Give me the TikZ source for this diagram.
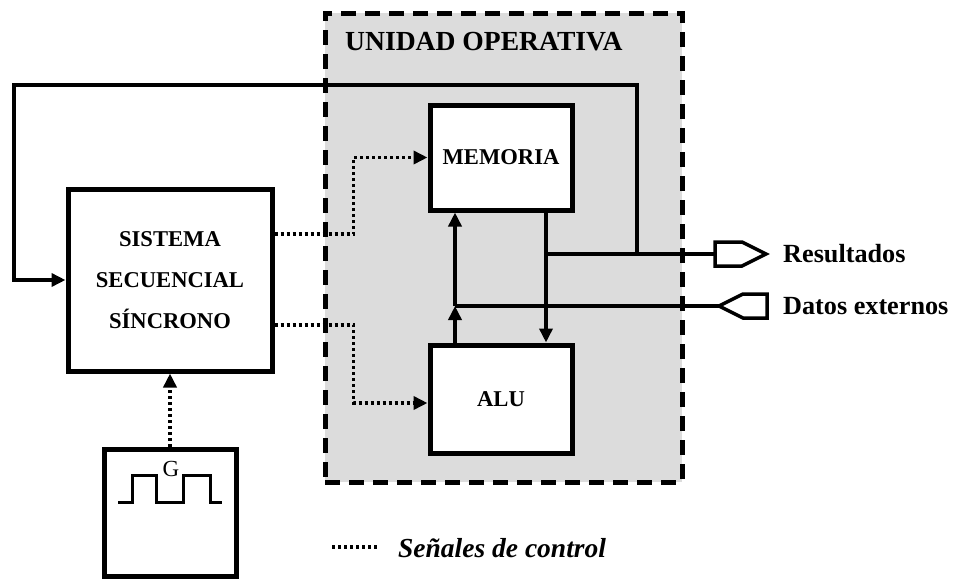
\documentclass[tikz,border=0pt]{standalone}
\usepackage{fontspec}
\setmainfont{Liberation Serif}
\usetikzlibrary{arrows.meta,calc}
\definecolor{unitgray}{RGB}{220,220,220}

\begin{document}
\begin{tikzpicture}[x=1pt,y=-1pt,
  block/.style={draw, line width=5pt, fill=white, inner sep=0pt,
    font=\fontsize{22.6}{41}\selectfont\bfseries, align=center},
  bus/.style={line width=3.5pt},
  ctrl/.style={line width=3.5pt, dash pattern=on 3pt off 3pt},
  tip/.style={-{Triangle[length=14pt,width=13pt]}},
  lbl/.style={font=\fontsize{26.2}{30}\selectfont\bfseries, anchor=west, inner sep=0pt}
]
\useasboundingbox (0,0) rectangle (953,581);

% operative unit frame
\node[draw, line width=5pt, dash pattern=on 15pt off 9pt, fill=unitgray,
      minimum width=357pt, minimum height=469pt, inner sep=0pt] (uo) at (503.5,247.5) {};
\node[font=\fontsize{27.6}{30}\selectfont\bfseries, anchor=west, inner sep=0pt] (uotitle) at (345,42) {UNIDAD OPERATIVA};

% blocks
\node[block, minimum width=204pt, minimum height=182pt] (sss) at (170,280)
  {SISTEMA\\SECUENCIAL\\SÍNCRONO};
\node[block, minimum width=142pt, minimum height=105pt] (mem) at (501,157.5) {MEMORIA};
\node[block, minimum width=142pt, minimum height=108pt] (alu) at (501,399) {ALU};
\node[block, minimum width=132pt, minimum height=127pt] (clk) at (170,512.5) {};

% clock waveform
\draw[line width=3pt] (118,502) -- (132,502) -- (132,475) -- (156,475) -- (156,502)
  -- (183,502) -- (183,475) -- (210,475) -- (210,502) -- (222,502);
\node[font=\fontsize{23}{24}\selectfont, inner sep=0pt] (glbl) at (171,469) {G};

% I/O connectors
\coordinate (res) at (715,254);
\coordinate (dat) at (719,306);
\draw[bus, line join=miter] (res) -- ++(0,-12) -- ++(27,0) -- ++(24,12) -- ++(-24,12) -- ++(-27,0) -- cycle;
\draw[bus, line join=miter] (dat) -- ++(24,-12) -- ++(24,0) -- ++(0,24) -- ++(-24,0) -- cycle;
\node[lbl] (reslbl) at (783,254) {Resultados};
\node[lbl] (datlbl) at (783,306) {Datos externos};

% data paths
\coordinate (dn) at ($(mem.south)+(45,0)$);
\coordinate (up) at ($(alu.north)+(-46,0)$);
\coordinate (rj) at (dn |- res);
\coordinate (dj) at (up |- dat);
\coordinate (fb) at (637,254);
\coordinate (tr) at (637,85);
\coordinate (tl) at (14,85);

\draw[bus, tip] (dn) -- (dn |- alu.north);
\draw[bus] (rj) -- (res);
\draw[bus] (dj) -- (dat);
\draw[bus, tip] (up) -- (dj);
\draw[bus, tip] (dj) -- (up |- mem.south);
\draw[bus, tip] (fb) -- (tr) -- (tl) |- (sss.west);

% control signals
\draw[ctrl, tip] ([yshift=46pt]sss.east) -- ++(79,0) |- (mem.west);
\draw[ctrl, tip] ([yshift=-45pt]sss.east) -- ++(79,0) |- ([yshift=-4pt]alu.west);
\draw[ctrl, tip] (clk.north) -- (sss.south);

% legend
\coordinate (lg1) at (332,547);
\coordinate (lg2) at (380,547);
\draw[ctrl] (lg1) -- (lg2);
\node[font=\fontsize{27.5}{30}\selectfont\bfseries\itshape, anchor=west, inner sep=0pt] (lgtxt) at (398,548) {Señales de control};
\end{tikzpicture}
\end{document}
